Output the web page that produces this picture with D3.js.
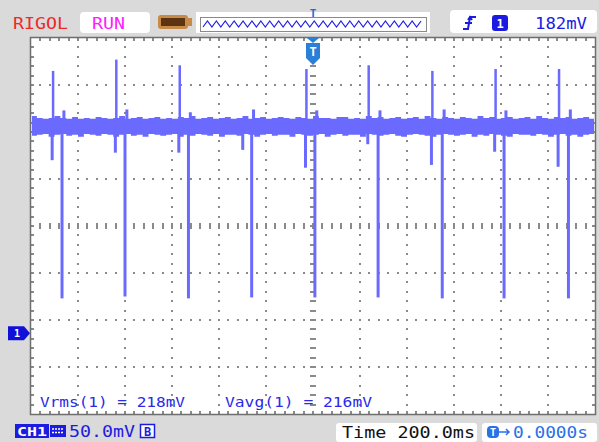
<!DOCTYPE html>
<html><head><meta charset="utf-8">
<script src="https://cdn.jsdelivr.net/npm/d3@7"></script>
<style>
  body { margin: 0; background: #dadada; }
  svg { display: block; }
  text { font-family: "DejaVu Sans Mono", monospace; }
</style>
</head><body>
<svg id="scope" width="599" height="442"></svg>
<script>
// ---- Channel 1 settings and measurements ----
const voltsPerDiv = 50;     // mV per division
const timePerDiv = 200;     // ms per division
const centerVolts = 114;    // mV at the vertical centre of the screen
const triggerLevel = 182;   // mV
const vrmsValue = 218;      // mV
const vavgValue = 216;      // mV
const triggerOffset = "0.0000s";

// ---- Pulse train (ms / mV) ----
const spikeTimes   = [-1106, -837, -567, -295, -28, 237, 508, 777, 1047];
const spikePeaks   = [279, 291, 285, null, 281, 285, 279, 281, 281];
const notchLows    = [184, 192, 192, 195, 176, 201, 179, 193, 177];
const dipTimes     = [-1068, -800, -530, -261, 8, 277, 550, 813, 1087];
const dipLows      = [37, 39, 37, 38, 38, 38, 37, 37, 37];
const reboundPeaks = [237, 238, 235, 238, 237, 237, 238, 237, 238];
const restLevel = 220;      // mV, resting level of the trace

// ---- Noise band envelope, one pair every 25 ms from -1200 ms ----
const bandHigh = [
  231,229,228,229,231,229,228,230,228,229,
  228,230,229,228,229,231,228,229,230,228,
  229,230,228,229,228,230,229,231,228,229,
  230,228,229,230,228,229,231,228,229,230,
  228,229,230,229,228,230,229,228,231,229,
  229,228,230,230,228,229,228,231,229,230,
  228,229,230,228,229,230,228,231,229,228,
  230,229,228,230,229,228,231,229,230,228,
  229,230,228,229,230,228,231,229,228,230,
  229,230,228,229,230,228,230];
const bandLow = [
  210,211,212,209,211,212,210,211,209,212,
  211,210,212,211,209,211,212,210,211,209,
  212,211,210,211,212,209,211,210,212,211,
  210,212,209,211,211,210,212,211,209,211,
  212,210,211,211,209,212,211,210,211,212,
  209,211,212,210,211,211,209,212,211,210,
  211,212,210,209,211,212,211,210,209,211,
  212,211,210,211,212,209,211,210,212,211,
  210,209,212,211,211,210,212,211,209,211,
  212,210,211,209,211,212,210];
const bandStart = -1200, bandStep = 25;

// ---- Layout ----
const L = 31, R = 595, T = 38, B = 414;
const traceColor = "#6a6aff";
const gridColor = "#8a8a8a";
const blue = "#1c1ce0";

const svg = d3.select("#scope");

// grid in division units
const gx = d3.scaleLinear().domain([-6, 6]).range([L, R]);
const gy = d3.scaleLinear().domain([-4, 4]).range([B, T]);
// signal scales
const x = d3.scaleLinear().domain([-6 * timePerDiv, 6 * timePerDiv]).range([L, R]);
const y = d3.scaleLinear().domain([centerVolts - 4 * voltsPerDiv, centerVolts + 4 * voltsPerDiv]).range([B, T]);

// screen background
svg.append("rect").attr("x", L).attr("y", T).attr("width", R - L).attr("height", B - T).attr("fill", "#fff");

// ---- Graticule ----
const grid = svg.append("g");
const sub = d3.range(-30, 31).map(i => i / 5);
const subY = d3.range(-20, 21).map(i => i / 5);
// dotted division lines
[-5, -4, -3, -2, -1, 1, 2, 3, 4, 5].forEach(i => {
  grid.selectAll(null).data(subY.slice(1, -1)).join("rect")
    .attr("x", Math.round(gx(i)) - 1).attr("y", d => Math.round(gy(d)) - 1)
    .attr("width", 2).attr("height", 2).attr("fill", gridColor);
});
[-3, -2, -1, 1, 2, 3].forEach(j => {
  grid.selectAll(null).data(sub.slice(1, -1)).join("rect")
    .attr("x", d => Math.round(gx(d)) - 1).attr("y", Math.round(gy(j)) - 1)
    .attr("width", 2).attr("height", 2).attr("fill", gridColor);
});
// centre axes with ticks
grid.selectAll(null).data(sub.slice(1, -1)).join("rect")
  .attr("x", d => Math.round(gx(d)) - 1).attr("y", gy(0) - 3)
  .attr("width", 2).attr("height", 6).attr("fill", gridColor);
grid.selectAll(null).data(subY.slice(1, -1)).join("rect")
  .attr("x", gx(0) - 3).attr("y", d => Math.round(gy(d)) - 1)
  .attr("width", 6).attr("height", 2).attr("fill", gridColor);
// frame ticks
grid.selectAll(null).data(sub.slice(1, -1)).join("rect")
  .attr("x", d => Math.round(gx(d)) - 1).attr("y", T).attr("width", 2).attr("height", 3).attr("fill", gridColor);
grid.selectAll(null).data(sub.slice(1, -1)).join("rect")
  .attr("x", d => Math.round(gx(d)) - 1).attr("y", B - 3).attr("width", 2).attr("height", 3).attr("fill", gridColor);
grid.selectAll(null).data(subY.slice(1, -1)).join("rect")
  .attr("x", L).attr("y", d => Math.round(gy(d)) - 1).attr("width", 3).attr("height", 2).attr("fill", gridColor);
grid.selectAll(null).data(subY.slice(1, -1)).join("rect")
  .attr("x", R - 3).attr("y", d => Math.round(gy(d)) - 1).attr("width", 3).attr("height", 2).attr("fill", gridColor);
svg.append("rect").attr("x", L - 0.5).attr("y", T - 0.5).attr("width", R - L + 1).attr("height", B - T + 1)
  .attr("fill", "none").attr("stroke", "#6e6e6e").attr("stroke-width", 1.5);

// ---- Trace ----
svg.append("clipPath").attr("id", "screen").append("rect")
  .attr("x", L + 1).attr("y", T + 1).attr("width", R - L - 2).attr("height", B - T - 2);
const trace = svg.append("g").attr("clip-path", "url(#screen)");

const band = bandHigh.map((h, i) => ({ t: bandStart + i * bandStep, hi: h, lo: bandLow[i] }));
trace.append("path").datum(band)
  .attr("fill", traceColor)
  .attr("d", d3.area().x(d => x(d.t)).y0(d => y(d.lo)).y1(d => y(d.hi)).curve(d3.curveStepAfter));

const segs = [];
spikeTimes.forEach((t, i) => {
  if (spikePeaks[i] != null) segs.push({ t: t, a: restLevel, b: spikePeaks[i], w: 2.5 });
  segs.push({ t: t - 4, a: restLevel, b: notchLows[i], w: 3 });
});
dipTimes.forEach((t, i) => {
  segs.push({ t: t, a: restLevel, b: dipLows[i], w: 3 });
  segs.push({ t: t + 8, a: restLevel, b: reboundPeaks[i], w: 3 });
});
const line = d3.line().x(d => x(d[0])).y(d => y(d[1]));
trace.selectAll(null).data(segs).join("path")
  .attr("d", d => line([[d.t, d.a], [d.t, d.b]]))
  .attr("stroke", traceColor).attr("stroke-width", d => d.w).attr("fill", "none");

// ---- Markers ----
const tx = x(0);
const trig = svg.append("g").attr("fill", "#2a7fd6");
trig.append("path").attr("d", `M${tx - 6},${T} H${tx + 6} L${tx},${T + 5} Z`);
trig.append("path").attr("d", `M${tx - 7},${T + 5} H${tx + 7} V${T + 20} L${tx},${T + 27} L${tx - 7},${T + 20} Z`);
svg.append("text").attr("x", tx).attr("y", T + 18).attr("text-anchor", "middle")
  .attr("fill", "#fff").attr("font-size", 12).attr("font-weight", "bold").text("T");

const gnd = y(0);
svg.append("path").attr("d", `M8,${gnd - 7} H24 L30,${gnd} L24,${gnd + 7} H8 Z`).attr("fill", "#1010d8");
svg.append("text").attr("x", 17).attr("y", gnd + 4).attr("text-anchor", "middle")
  .attr("fill", "#fff").attr("font-size", 10).attr("font-weight", "bold").text("1");

// ---- Header ----
svg.append("text").attr("x", 13).attr("y", 29).attr("fill", "#f02828").attr("font-size", 16)
  .attr("textLength", 55).attr("lengthAdjust", "spacingAndGlyphs").text("RIGOL");
svg.append("rect").attr("x", 80).attr("y", 12).attr("width", 70).attr("height", 21).attr("rx", 4).attr("fill", "#fff");
svg.append("text").attr("x", 92).attr("y", 29).attr("fill", "#ff20ff").attr("font-size", 16)
  .attr("textLength", 33).attr("lengthAdjust", "spacingAndGlyphs").text("RUN");
// memory depth indicator
svg.append("rect").attr("x", 158).attr("y", 15).attr("width", 30).attr("height", 14).attr("rx", 3).attr("fill", "#c88a48");
svg.append("rect").attr("x", 188).attr("y", 18).attr("width", 4).attr("height", 8).attr("fill", "#c88a48");
svg.append("rect").attr("x", 161).attr("y", 18).attr("width", 24).attr("height", 8).attr("fill", "#5c3412");
// waveform overview bar
svg.append("rect").attr("x", 196).attr("y", 12).attr("width", 234).attr("height", 21).attr("fill", "#fff");
svg.append("rect").attr("x", 200.5).attr("y", 17.5).attr("width", 226).attr("height", 14).attr("fill", "#fff")
  .attr("stroke", "#8a8a8a");
const zig = d3.range(0, 50).map(k => [203 + k * 4.45, k % 2 ? 21 : 27]);
svg.append("path").attr("d", d3.line()(zig)).attr("fill", "none").attr("stroke", "#2020e8").attr("stroke-width", 1.2);
svg.append("text").attr("x", 313).attr("y", 17).attr("text-anchor", "middle").attr("fill", "#1a70d8")
  .attr("font-size", 11).attr("font-weight", "bold").text("T");
// trigger box
svg.append("rect").attr("x", 450).attr("y", 10).attr("width", 147).attr("height", 23).attr("rx", 4).attr("fill", "#fff");
svg.append("path").attr("d", "M463,29 H468 L470,17 H476 M465,23 H472 M468,20 L470,17 L472,20")
  .attr("fill", "none").attr("stroke", blue).attr("stroke-width", 2);
svg.append("rect").attr("x", 492).attr("y", 15).attr("width", 16).attr("height", 16).attr("rx", 3).attr("fill", blue);
svg.append("text").attr("x", 500).attr("y", 28).attr("text-anchor", "middle").attr("fill", "#fff")
  .attr("font-size", 12).attr("font-weight", "bold").text("1");
svg.append("text").attr("x", 535).attr("y", 29).attr("fill", blue).attr("font-size", 15)
  .attr("textLength", 52).attr("lengthAdjust", "spacingAndGlyphs").text(`${triggerLevel}mV`);

// ---- Measurements ----
svg.append("text").attr("x", 40).attr("y", 407).attr("fill", "#2a2ae8").attr("font-size", 14)
  .attr("textLength", 145).attr("lengthAdjust", "spacingAndGlyphs").text(`Vrms(1) = ${vrmsValue}mV`);
svg.append("text").attr("x", 225).attr("y", 407).attr("fill", "#2a2ae8").attr("font-size", 14)
  .attr("textLength", 147).attr("lengthAdjust", "spacingAndGlyphs").text(`Vavg(1) = ${vavgValue}mV`);

// ---- Footer ----
svg.append("rect").attr("x", 15).attr("y", 424).attr("width", 34).attr("height", 14).attr("fill", blue);
svg.append("text").attr("x", 17).attr("y", 436).attr("fill", "#fff").attr("font-size", 13).attr("font-weight", "bold")
  .attr("textLength", 30).attr("lengthAdjust", "spacingAndGlyphs").text("CH1");
svg.append("rect").attr("x", 50).attr("y", 425).attr("width", 16).attr("height", 12).attr("fill", blue);
svg.append("path").attr("d", "M52,429 H64 M52,432.5 H64").attr("stroke", "#fff").attr("stroke-width", 1.5)
  .attr("stroke-dasharray", "2,1");
svg.append("text").attr("x", 69).attr("y", 437).attr("fill", blue).attr("font-size", 15)
  .attr("textLength", 66).attr("lengthAdjust", "spacingAndGlyphs").text(`${voltsPerDiv.toFixed(1)}mV`);
svg.append("rect").attr("x", 140.5).attr("y", 424.5).attr("width", 14).attr("height", 13).attr("fill", "#fff")
  .attr("stroke", blue).attr("stroke-width", 1.5);
svg.append("text").attr("x", 147.5).attr("y", 436).attr("text-anchor", "middle").attr("fill", blue)
  .attr("font-size", 12).attr("font-weight", "bold").text("B");

svg.append("rect").attr("x", 336).attr("y", 423).attr("width", 141).attr("height", 19).attr("rx", 3).attr("fill", "#fff");
svg.append("text").attr("x", 342).attr("y", 438).attr("fill", "#111").attr("font-size", 15)
  .attr("textLength", 133).attr("lengthAdjust", "spacingAndGlyphs").text(`Time ${timePerDiv.toFixed(1)}ms`);
svg.append("rect").attr("x", 482).attr("y", 423).attr("width", 115).attr("height", 19).attr("rx", 3).attr("fill", "#fff");
svg.append("rect").attr("x", 487).attr("y", 426).attr("width", 12).attr("height", 12).attr("rx", 4).attr("fill", "#2a70e8");
svg.append("text").attr("x", 493).attr("y", 436).attr("text-anchor", "middle").attr("fill", "#fff")
  .attr("font-size", 10).attr("font-weight", "bold").text("T");
svg.append("path").attr("d", "M499,432 H509 M506,429 L509,432 L506,435").attr("fill", "none")
  .attr("stroke", "#2a70e8").attr("stroke-width", 1.5);
svg.append("text").attr("x", 513).attr("y", 438).attr("fill", "#2a70e8").attr("font-size", 15)
  .attr("textLength", 75).attr("lengthAdjust", "spacingAndGlyphs").text(triggerOffset);
</script>
</body></html>
